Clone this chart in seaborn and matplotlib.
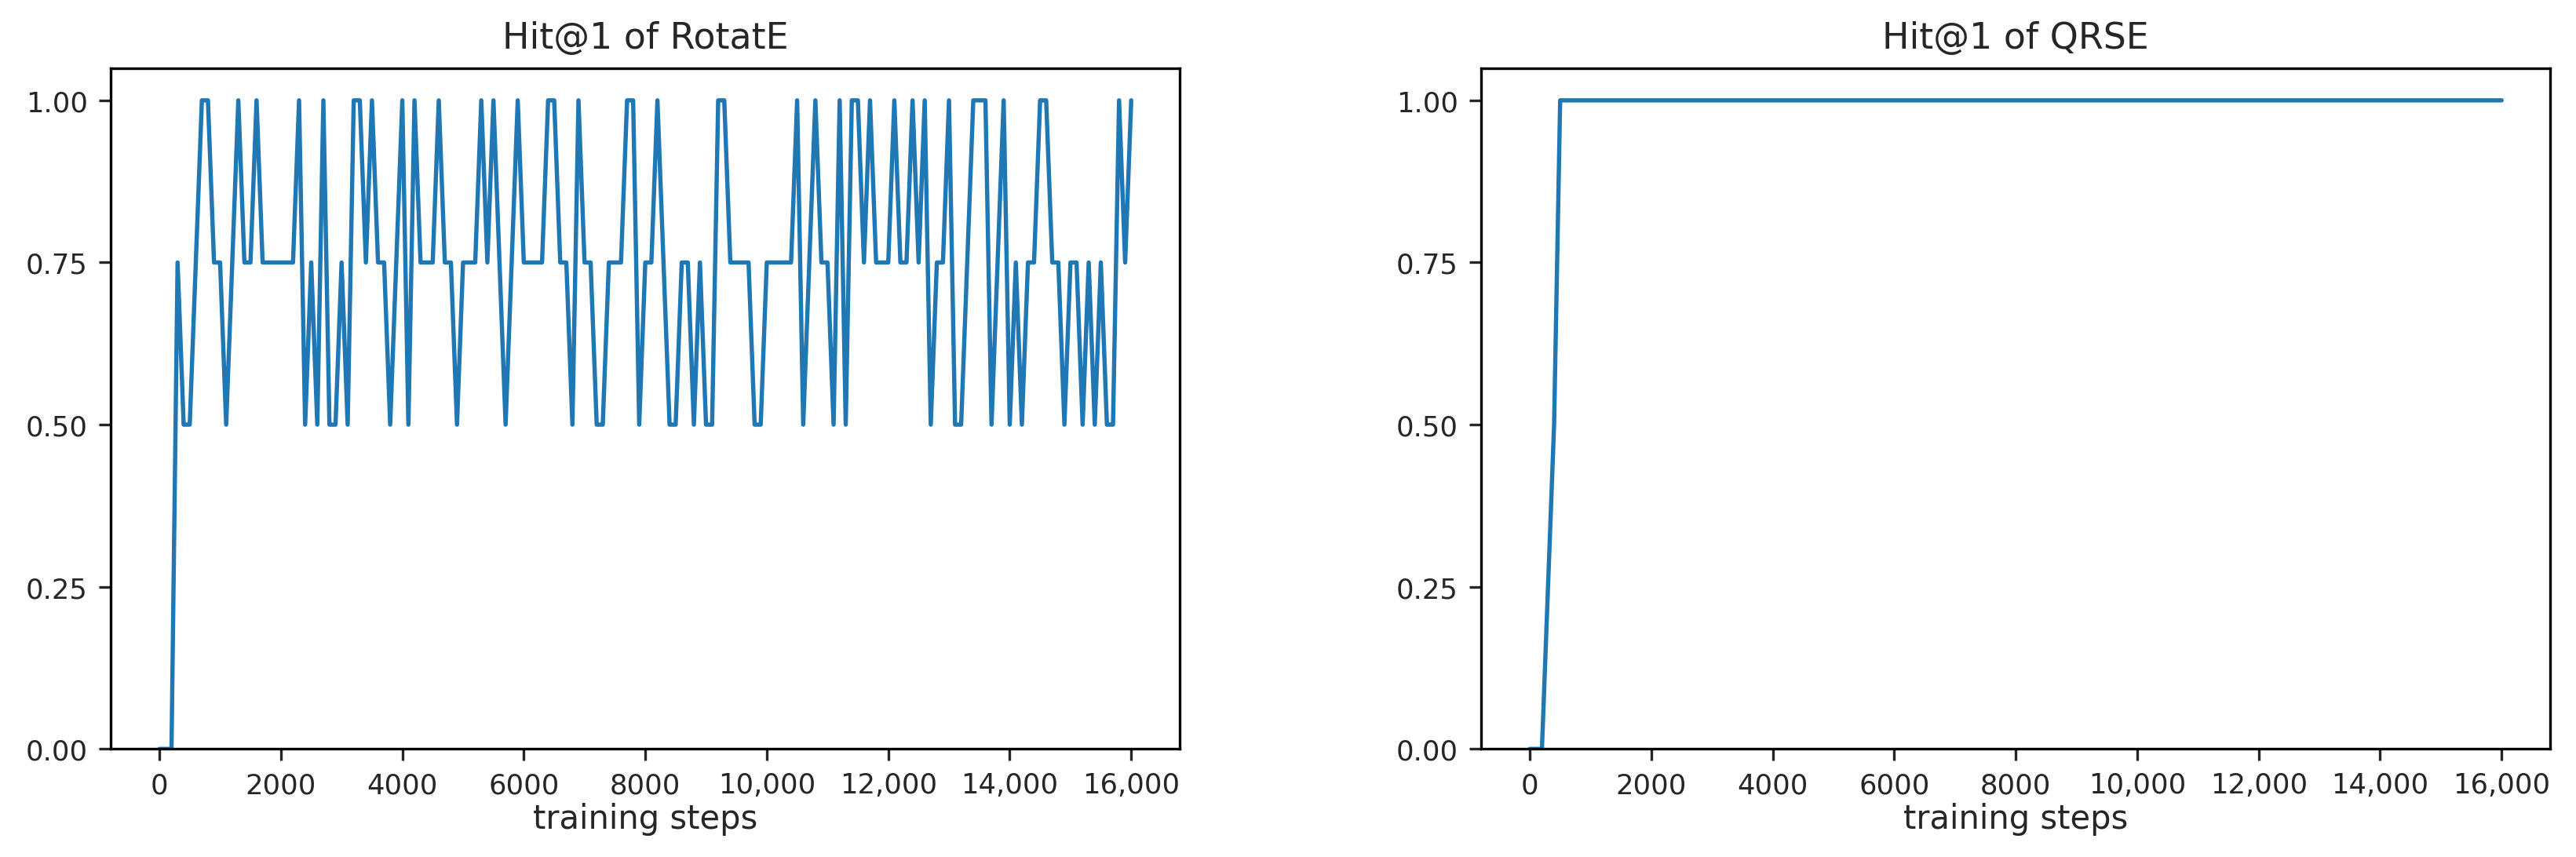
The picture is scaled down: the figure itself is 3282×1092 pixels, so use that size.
import seaborn as sns
import matplotlib.pyplot as plt
from matplotlib.ticker import FuncFormatter
import pandas as pd

# training steps, every 100 steps from 0 to 16000
steps = list(range(0, 16001, 100))

rotate_hit1 = [
    0, 0, 0, 0.75, 0.5, 0.5, 0.75, 1.0, 1.0, 0.75,
    0.75, 0.5, 0.75, 1.0, 0.75, 0.75, 1.0, 0.75, 0.75, 0.75,
    0.75, 0.75, 0.75, 1.0, 0.5, 0.75, 0.5, 1.0, 0.5, 0.5,
    0.75, 0.5, 1.0, 1.0, 0.75, 1.0, 0.75, 0.75, 0.5, 0.75,
    1.0, 0.5, 1.0, 0.75, 0.75, 0.75, 1.0, 0.75, 0.75, 0.5,
    0.75, 0.75, 0.75, 1.0, 0.75, 1.0, 0.75, 0.5, 0.75, 1.0,
    0.75, 0.75, 0.75, 0.75, 1.0, 1.0, 0.75, 0.75, 0.5, 1.0,
    0.75, 0.75, 0.5, 0.5, 0.75, 0.75, 0.75, 1.0, 1.0, 0.5,
    0.75, 0.75, 1.0, 0.75, 0.5, 0.5, 0.75, 0.75, 0.5, 0.75,
    0.5, 0.5, 1.0, 1.0, 0.75, 0.75, 0.75, 0.75, 0.5, 0.5,
    0.75, 0.75, 0.75, 0.75, 0.75, 1.0, 0.5, 0.75, 1.0, 0.75,
    0.75, 0.5, 1.0, 0.5, 1.0, 1.0, 0.75, 1.0, 0.75, 0.75,
    0.75, 1.0, 0.75, 0.75, 1.0, 0.75, 1.0, 0.5, 0.75, 0.75,
    1.0, 0.5, 0.5, 0.75, 1.0, 1.0, 1.0, 0.5, 0.75, 1.0,
    0.5, 0.75, 0.5, 0.75, 0.75, 1.0, 1.0, 0.75, 0.75, 0.5,
    0.75, 0.75, 0.5, 0.75, 0.5, 0.75, 0.5, 0.5, 1.0, 0.75,
    1.0,
]

qrse_hit1 = [0, 0, 0, 0.25, 0.5] + [1.0] * (len(steps) - 5)

titles = ['Hit@1 of RotatE', 'Hit@1 of QRSE']
xticks = list(range(0, 16001, 2000))
yticks = [0, 0.25, 0.5, 0.75, 1.0]

sns.set_style('ticks')
plt.rcParams['font.family'] = ['DejaVu Sans']

fig = plt.figure(figsize=(10.94, 3.643), dpi=300)
ax1 = fig.add_axes([0.043, 0.126, 0.415, 0.794])
ax2 = fig.add_axes([0.575, 0.126, 0.415, 0.794])


def fmt(v, pos):
    v = int(v)
    return f'{v:,}' if v >= 10000 else str(v)


for ax, vals, title in zip([ax1, ax2], [rotate_hit1, qrse_hit1], titles):
    df = pd.DataFrame({'step': steps, 'hit1': vals})
    sns.lineplot(data=df, x='step', y='hit1', ax=ax, color='#1f77b4', linewidth=1.3)
    ax.set_title(title, fontsize=11)
    ax.set_xlabel('training steps', fontsize=10, labelpad=1)
    ax.set_ylabel('')
    ax.set_xticks(xticks)
    ax.xaxis.set_major_formatter(FuncFormatter(fmt))
    ax.set_yticks(yticks)
    ax.set_yticklabels([f'{y:.2f}' for y in yticks])
    ax.set_xlim(-800, 16800)
    ax.set_ylim(0, 1.05)
    ax.tick_params(labelsize=8.5, length=3.5, width=0.8)
    for s in ax.spines.values():
        s.set_linewidth(0.8)
        s.set_color('black')

fig.savefig('out.png', dpi=300)
